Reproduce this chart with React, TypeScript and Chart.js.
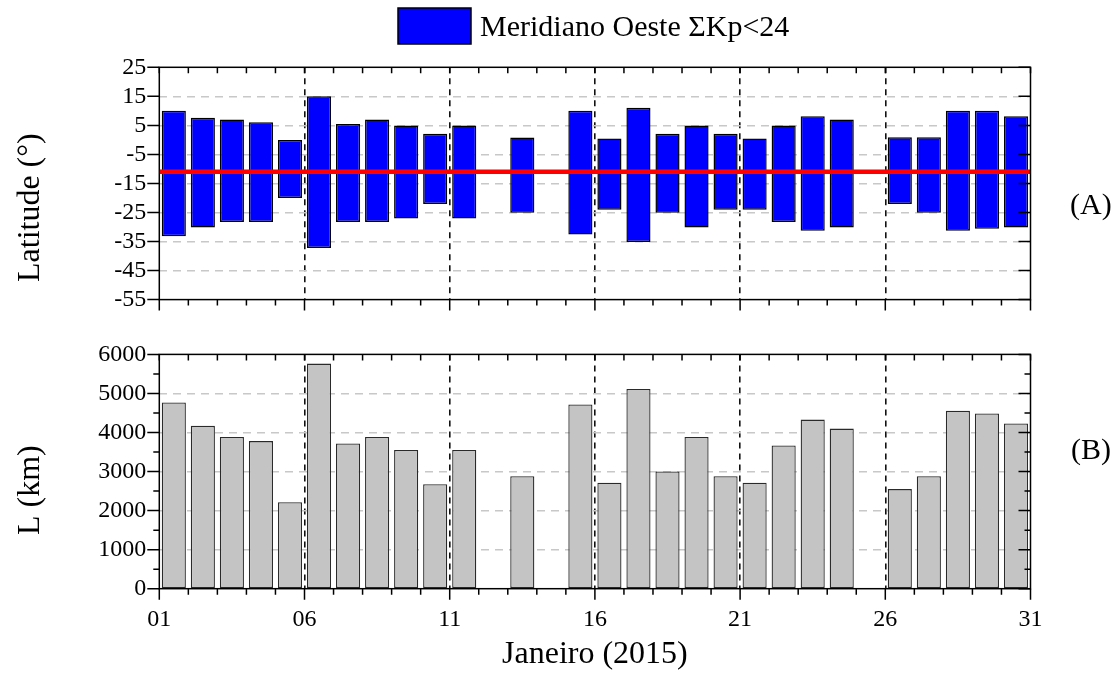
import React, { useEffect, useRef } from "react";
import { Chart, registerables } from "chart.js";

Chart.register(...registerables);

// ---------- data ----------
const days = [
  1, 2, 3, 4, 5, 6, 7, 8, 9, 10, 11, 12, 13, 14, 15, 16, 17, 18, 19, 20, 21, 22, 23, 24, 25, 26, 27, 28, 29, 30,
];
const latNorth: (number | null)[] = [
  10, 7.6, 7, 6.1, 0, 15, 5.5, 7, 5, 2.1, 5, null, 0.8, null, 10, 0.5, 11.1, 2.1, 5, 2.1, 0.5, 5, 8.1, 7, null, 0.9, 0.9,
  10, 10, 8.1,
];
const latSouth: (number | null)[] = [
  -33.2, -30.2, -28.3, -28.3, -20, -37.2, -28.3, -28.3, -27.1, -22.1, -27.1, null, -25.1, null, -32.6, -24.1, -35.2,
  -25.1, -30.2, -24.1, -24.1, -28.3, -31.3, -30.2, null, -22.1, -25.1, -31.3, -30.6, -30.2,
];
const lengthKm: (number | null)[] = [
  4770, 4170, 3885, 3780, 2215, 5765, 3720, 3885, 3550, 2675, 3550, null, 2880, null, 4720, 2715, 5115, 3000, 3885, 2880,
  2715, 3670, 4330, 4100, null, 2550, 2880, 4555, 4485, 4230,
];
const meanLatitude = -11;

const dayTicks = [1, 6, 11, 16, 21, 26, 31];
const latTicks = [-55, -45, -35, -25, -15, -5, 5, 15, 25];
const lengthTicks = [0, 1000, 2000, 3000, 4000, 5000, 6000];
const lengthMinorTicks = [500, 1500, 2500, 3500, 4500, 5500];

const legendLabel = "Meridiano Oeste ΣKp<24";
const latTitle = "Latitude (°)";
const lengthTitle = "L (km)";
const xTitle = "Janeiro (2015)";
const panelA = "(A)";
const panelB = "(B)";

// ---------- layout / style ----------
const W = 1118;
const TOP_H = 327;
const BOT_H = 346;
const AREA_LEFT = 159.3;
const AREA_RIGHT = 1030.5;
const FONT = "'Liberation Serif', 'Times New Roman', serif";

const xFirst = dayTicks[0];
const xLast = dayTicks[dayTicks.length - 1];

function framePlugin(yMajor: number[], yMinor: number[]) {
  return {
    id: "frameTicks",
    afterDraw(chart: any) {
      const { ctx, chartArea: a, scales } = chart;
      const xs = scales.x;
      const ys = scales.y;
      ctx.save();
      ctx.strokeStyle = "#000";
      ctx.lineWidth = 1.5;
      ctx.setLineDash([]);
      ctx.strokeRect(a.left, a.top, a.right - a.left, a.bottom - a.top);
      ctx.beginPath();
      for (let d = xFirst; d <= xLast; d++) {
        const px = xs.getPixelForValue(d);
        const major = dayTicks.includes(d);
        ctx.moveTo(px, a.bottom);
        ctx.lineTo(px, a.bottom + (major ? 11 : 6));
        ctx.moveTo(px, a.top);
        ctx.lineTo(px, a.top + 6);
      }
      for (const v of yMajor) {
        const py = ys.getPixelForValue(v);
        ctx.moveTo(a.left - 12, py);
        ctx.lineTo(a.left, py);
        ctx.moveTo(a.right, py);
        ctx.lineTo(a.right - 12, py);
      }
      for (const v of yMinor) {
        const py = ys.getPixelForValue(v);
        ctx.moveTo(a.left - 6, py);
        ctx.lineTo(a.left, py);
        ctx.moveTo(a.right, py);
        ctx.lineTo(a.right - 6, py);
      }
      ctx.stroke();
      ctx.restore();
    },
  };
}

function textPlugin(draw: (ctx: CanvasRenderingContext2D, chart: any) => void) {
  return {
    id: "texts",
    afterDraw(chart: any) {
      const ctx = chart.ctx;
      ctx.save();
      ctx.fillStyle = "#000";
      draw(ctx, chart);
      ctx.restore();
    },
  };
}

function yGridColor(min: number, max: number) {
  return (c: any) => {
    const v = c.tick ? c.tick.value : null;
    return v === min || v === max ? "rgba(0,0,0,0)" : "#c8c8c8";
  };
}

function xGridColor(c: any) {
  const v = c.tick ? c.tick.value : null;
  return v === xFirst || v === xLast ? "rgba(0,0,0,0)" : "#111";
}

const xScaleBase = {
  type: "linear" as const,
  min: xFirst,
  max: xLast,
  offset: false,
  afterBuildTicks: (s: any) => {
    s.ticks = dayTicks.map((v) => ({ value: v }));
  },
  grid: { color: xGridColor, lineWidth: 1.6, drawTicks: false, offset: false },
  border: { display: false, dash: [6, 5] },
};

export default function App() {
  const topRef = useRef<HTMLCanvasElement>(null);
  const botRef = useRef<HTMLCanvasElement>(null);

  useEffect(() => {
    Chart.defaults.font.family = FONT;
    Chart.defaults.color = "#000";

    const latData = days
      .map((d, i) => ({ d, lo: latSouth[i], hi: latNorth[i] }))
      .filter((p) => p.lo !== null && p.hi !== null)
      .map((p) => ({ x: p.d + 0.5, y: [p.lo as number, p.hi as number] }));

    const lenData = days
      .map((d, i) => ({ d, v: lengthKm[i] }))
      .filter((p) => p.v !== null)
      .map((p) => ({ x: p.d + 0.5, y: p.v as number }));

    const yTickFont = { size: 24, family: FONT };

    const topChart = new Chart(topRef.current as HTMLCanvasElement, {
      type: "bar",
      data: {
        datasets: [
          {
            type: "line",
            label: "mean",
            data: [
              { x: xFirst, y: meanLatitude },
              { x: xLast, y: meanLatitude },
            ],
            borderColor: "#ff0000",
            borderWidth: 4.5,
            pointRadius: 0,
            order: 0,
          } as any,
          {
            type: "bar",
            label: legendLabel,
            data: latData as any,
            backgroundColor: "#0000ff",
            borderColor: "#000",
            borderWidth: 1.5,
            borderSkipped: false,
            categoryPercentage: 1,
            barPercentage: 0.83,
            order: 1,
          },
        ],
      },
      options: {
        responsive: false,
        devicePixelRatio: 1,
        animation: false,
        layout: { padding: { top: 67.3, bottom: TOP_H - 305.7, left: 0, right: W - AREA_RIGHT } },
        plugins: { legend: { display: false }, tooltip: { enabled: false } },
        scales: {
          x: {
            ...xScaleBase,
            ticks: { display: false },
            afterFit: (s: any) => {
              s.height = 0;
            },
          },
          y: {
            type: "linear",
            min: latTicks[0],
            max: latTicks[latTicks.length - 1],
            afterBuildTicks: (s: any) => {
              s.ticks = latTicks.map((v) => ({ value: v }));
            },
            afterFit: (s: any) => {
              s.width = AREA_LEFT;
            },
            ticks: {
              font: yTickFont,
              color: "#000",
              padding: 13,
              autoSkip: false,
              callback: (v: any) => String(v),
            },
            grid: {
              color: yGridColor(latTicks[0], latTicks[latTicks.length - 1]),
              lineWidth: 1.4,
              drawTicks: false,
              offset: false,
            },
            border: { display: false, dash: [8, 6] },
          },
        },
      },
      plugins: [
        framePlugin(latTicks, []),
        textPlugin((ctx, chart) => {
          const ds = chart.data.datasets[1];
          // legend
          ctx.fillStyle = ds.backgroundColor;
          ctx.fillRect(398, 8, 73, 36);
          ctx.strokeStyle = "#000";
          ctx.lineWidth = 1.5;
          ctx.strokeRect(398, 8, 73, 36);
          ctx.fillStyle = "#000";
          ctx.font = `30px ${FONT}`;
          ctx.textBaseline = "middle";
          ctx.textAlign = "left";
          ctx.fillText(ds.label, 480, 28);
          // y title
          ctx.save();
          ctx.translate(31, 282);
          ctx.rotate(-Math.PI / 2);
          ctx.font = `32px ${FONT}`;
          ctx.textAlign = "left";
          ctx.textBaseline = "middle";
          ctx.fillText(latTitle, 0, 0);
          ctx.restore();
          // panel label
          ctx.font = `30px ${FONT}`;
          ctx.textAlign = "left";
          ctx.textBaseline = "middle";
          ctx.fillText(panelA, 1070, 206);
        }),
      ],
    } as any);

    const botChart = new Chart(botRef.current as HTMLCanvasElement, {
      type: "bar",
      data: {
        datasets: [
          {
            label: lengthTitle,
            data: lenData as any,
            backgroundColor: "#c4c4c4",
            borderColor: "#2a2a2a",
            borderWidth: 1.3,
            borderSkipped: false,
            categoryPercentage: 1,
            barPercentage: 0.83,
          },
        ],
      },
      options: {
        responsive: false,
        devicePixelRatio: 1,
        animation: false,
        layout: { padding: { top: 349.3 - TOP_H, bottom: 0, left: 0, right: W - AREA_RIGHT } },
        plugins: { legend: { display: false }, tooltip: { enabled: false } },
        scales: {
          x: {
            ...xScaleBase,
            ticks: {
              font: { size: 24, family: FONT },
              color: "#000",
              padding: 17,
              maxRotation: 0,
              autoSkip: false,
              callback: (v: any) => String(v).padStart(2, "0"),
            },
            afterFit: (s: any) => {
              s.height = TOP_H + BOT_H - 588.7;
            },
          },
          y: {
            type: "linear",
            min: lengthTicks[0],
            max: lengthTicks[lengthTicks.length - 1],
            afterBuildTicks: (s: any) => {
              s.ticks = lengthTicks.map((v) => ({ value: v }));
            },
            afterFit: (s: any) => {
              s.width = AREA_LEFT;
            },
            ticks: {
              font: yTickFont,
              color: "#000",
              padding: 13,
              autoSkip: false,
              callback: (v: any) => String(v),
            },
            grid: {
              color: yGridColor(lengthTicks[0], lengthTicks[lengthTicks.length - 1]),
              lineWidth: 1.4,
              drawTicks: false,
              offset: false,
            },
            border: { display: false, dash: [8, 6] },
          },
        },
      },
      plugins: [
        framePlugin(lengthTicks, lengthMinorTicks),
        textPlugin((ctx, chart) => {
          const a = chart.chartArea;
          ctx.save();
          ctx.translate(31, 535 - TOP_H);
          ctx.rotate(-Math.PI / 2);
          ctx.font = `32px ${FONT}`;
          ctx.textAlign = "left";
          ctx.textBaseline = "middle";
          ctx.fillText(lengthTitle, 0, 0);
          ctx.restore();
          ctx.font = `32px ${FONT}`;
          ctx.textAlign = "center";
          ctx.textBaseline = "middle";
          ctx.fillText(xTitle, (a.left + a.right) / 2, 655 - TOP_H);
          ctx.font = `30px ${FONT}`;
          ctx.textAlign = "left";
          ctx.fillText(panelB, 1071, 451 - TOP_H);
        }),
      ],
    } as any);

    return () => {
      topChart.destroy();
      botChart.destroy();
    };
  }, []);

  return (
    <div style={{ position: "absolute", left: 0, top: 0, width: W, height: TOP_H + BOT_H, background: "#fff" }}>
      <canvas ref={topRef} width={W} height={TOP_H} style={{ position: "absolute", left: 0, top: 0, display: "block" }} />
      <canvas
        ref={botRef}
        width={W}
        height={BOT_H}
        style={{ position: "absolute", left: 0, top: TOP_H, display: "block" }}
      />
    </div>
  );
}
